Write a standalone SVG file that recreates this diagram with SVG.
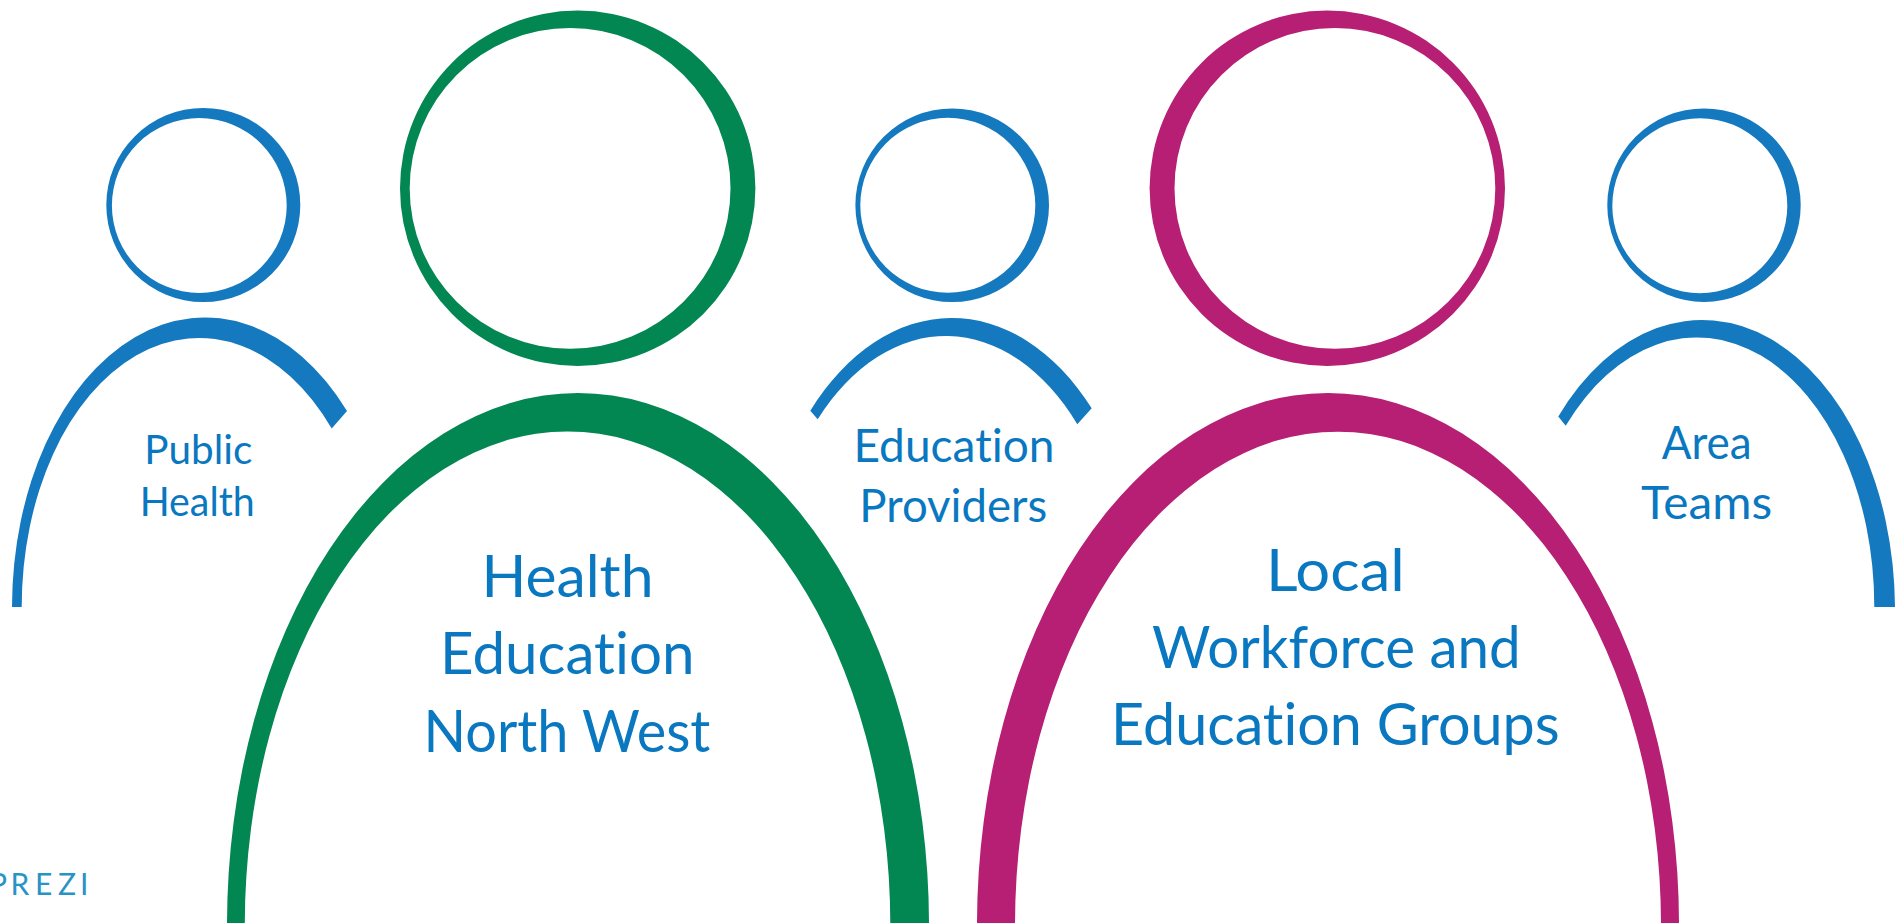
<svg xmlns="http://www.w3.org/2000/svg" width="1902" height="923" viewBox="0 0 1902 923">
<style>
.blue{fill:#1479bf;fill-rule:evenodd}
.green{fill:#038752;fill-rule:evenodd}
.mag{fill:#b61f74;fill-rule:evenodd}
text{font-family:"Lato","Noto Sans","Liberation Sans",sans-serif;fill:#0a78c0;font-variant-ligatures:none}
.s{font-size:41px}
.m{font-size:46px}
.l{font-size:58px}
.mark{font-size:30px;fill:#2a93c6}
</style>
<rect width="1902" height="923" fill="#ffffff"/>
<g id="public-health">
<path class="blue" d="M106.3 205a97 97 0 1 0 194 0a97 97 0 1 0-194 0ZM111.9 205.5a87.4 87.4 0 1 0 174.8 0a87.4 87.4 0 1 0-174.8 0Z"/>
<path class="blue" d="M12 607A193 290 0 0 1 347 411L331.7 428.6A177.3 269 0 0 0 21.7 607Z"/>
<text class="s" x="144.3" y="464" textLength="108" lengthAdjust="spacingAndGlyphs">Public</text>
<text class="s" x="139.7" y="516" textLength="115" lengthAdjust="spacingAndGlyphs">Health</text>
</g>
<g id="health-education-north-west">
<path class="green" d="M400 188.3a177.7 177.7 0 1 0 355.4 0a177.7 177.7 0 1 0-355.4 0ZM409.7 188.4a160.4 160.4 0 1 0 320.8 0a160.4 160.4 0 1 0-320.8 0Z"/>
<path class="green" d="M227 925A351 532 0 0 1 929 925L890.3 925A322.75 493.6 0 0 0 244.8 925Z"/>
<text class="l" x="481.5" y="597" textLength="172" lengthAdjust="spacingAndGlyphs">Health</text>
<text class="l" x="440" y="673.5" textLength="254.5" lengthAdjust="spacingAndGlyphs">Education</text>
<text class="l" x="423.6" y="751.5" textLength="286.8" lengthAdjust="spacingAndGlyphs">North West</text>
</g>
<g id="education-providers">
<path class="blue" d="M855.4 205.2a96.8 96.8 0 1 0 193.6 0a96.8 96.8 0 1 0-193.6 0ZM860.3 205.3a87.5 87.5 0 1 0 175 0a87.5 87.5 0 1 0-175 0Z"/>
<path class="blue" d="M810.3 410.7A193 290 0 0 1 1091.7 408.3L1077.3 424.3A177.3 269 0 0 0 817.7 419.3Z"/>
<text class="m" x="853.5" y="461.7" textLength="201" lengthAdjust="spacingAndGlyphs">Education</text>
<text class="m" x="859.3" y="521.7" textLength="188" lengthAdjust="spacingAndGlyphs">Providers</text>
</g>
<g id="local-workforce-education-groups">
<path class="mag" d="M1149.6 188.3a177.7 177.7 0 1 0 355.4 0a177.7 177.7 0 1 0-355.4 0ZM1174.5 188.4a160.4 160.4 0 1 0 320.8 0a160.4 160.4 0 1 0-320.8 0Z"/>
<path class="mag" d="M977 925A351 532 0 0 1 1679 925L1661 925A323 493.6 0 0 0 1015 925Z"/>
<text class="l" x="1266" y="591" textLength="138.8" lengthAdjust="spacingAndGlyphs">Local</text>
<text class="l" x="1152" y="667.5" textLength="368.7" lengthAdjust="spacingAndGlyphs">Workforce and</text>
<text class="l" x="1111" y="745.3" textLength="448.7" lengthAdjust="spacingAndGlyphs">Education Groups</text>
</g>
<g id="area-teams">
<path class="blue" d="M1607.3 205.2a96.7 96.7 0 1 0 193.4 0a96.7 96.7 0 1 0-193.4 0ZM1612.3 205.7a87.5 87.5 0 1 0 175 0a87.5 87.5 0 1 0-175 0Z"/>
<path class="blue" d="M1558.3 416.4A193 290 0 0 1 1895 607L1874.3 607A177.3 269 0 0 0 1565.7 425.7Z"/>
<text class="m" x="1661.7" y="458.8" textLength="90" lengthAdjust="spacingAndGlyphs">Area</text>
<text class="m" x="1641" y="519" textLength="131.2" lengthAdjust="spacingAndGlyphs">Teams</text>
</g>
<g id="prezi-mark">
<text class="mark" x="-11 10.5 35 58 80" y="895">PREZI</text>
</g>
</svg>
